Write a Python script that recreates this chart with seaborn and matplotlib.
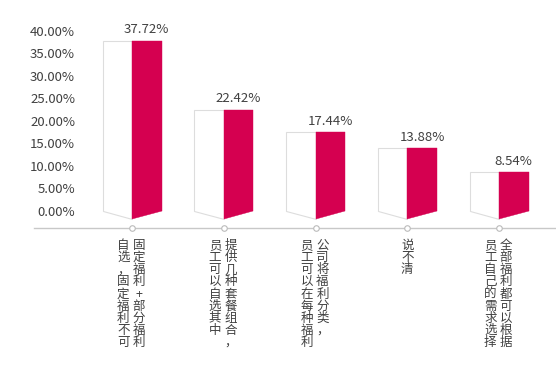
import matplotlib
matplotlib.use("Agg")
import matplotlib.pyplot as plt
from matplotlib.patches import Polygon
import pandas as pd
import seaborn as sns

# label text, split into the vertical columns it is shown in (right column first)
label_columns = [
    ["固定福利+部分福利", "自选，固定福利不可"],
    ["提供几种套餐组合，", "员工可以自选其中"],
    ["公司将福利分类，", "员工可以在每种福利"],
    ["说不清"],
    ["全部福利都可以根据", "员工自己的需求选择"],
]
categories = ["".join(c) for c in label_columns]
values = [37.72, 22.42, 17.44, 13.88, 8.54]
y_ticks = [0, 5, 10, 15, 20, 25, 30, 35, 40]

red = "#d50050"
grey_text = "#404040"

sns.set_theme(style="white")
plt.rcParams["font.family"] = ["Noto Sans CJK SC", "DejaVu Sans"]

# each bar is drawn as two faces: a white left one and a red right one
df = pd.DataFrame({
    "cat": categories * 2,
    "face": ["left"] * len(categories) + ["right"] * len(categories),
    "val": values * 2,
})

fig = plt.figure(figsize=(5.56, 3.70), dpi=100)
ax = fig.add_axes([0.0612, 0.3838, 0.9388, 0.5446])

sns.barplot(data=df, x="cat", y="val", hue="face", hue_order=["left", "right"],
            palette={"left": "white", "right": red}, width=0.643, gap=0,
            saturation=1, legend=False, ax=ax)

# turn the flat bars into prism faces with a pointed bottom edge
drop = 1.8
for p in list(ax.patches):
    x0, w, h = p.get_x(), p.get_width(), p.get_height()
    centre = round(x0 + w / 2)
    if x0 + w / 2 < centre:
        pts = [(x0, 0), (x0, h), (x0 + w, h), (x0 + w, -drop)]
        poly = Polygon(pts, closed=True, facecolor="white", edgecolor="#dddddd", lw=0.8, zorder=2)
    else:
        pts = [(x0, -drop), (x0, h), (x0 + w, h), (x0 + w, 0)]
        poly = Polygon(pts, closed=True, facecolor=red, edgecolor=red, lw=0.3, zorder=2)
        ax.annotate(f"{h:.2f}%", xy=(x0 + w / 2, h), xytext=(0, 3.5), textcoords="offset points",
                    ha="center", va="bottom", fontsize=9.5, color=grey_text)
    p.set_visible(False)
    ax.add_patch(poly)

ax.set_xlim(-1.068, 4.621)
ax.set_ylim(-3.8, 41)
ax.set_yticks(y_ticks)
ax.set_yticklabels([f"{t:.2f}%" for t in y_ticks])
ax.tick_params(axis="y", length=0, pad=-29.5, labelsize=9.5, labelcolor=grey_text)
ax.set_xticks([])
ax.set_xlabel("")
ax.set_ylabel("")

sns.despine(ax=ax, left=True)
ax.spines["bottom"].set_color("#c8c8c8")
ax.spines["bottom"].set_linewidth(1)

# small ring markers on the axis line
ax.plot(range(len(categories)), [-3.8] * len(categories), "o", ms=4, mfc="white",
        mec="#bbbbbb", mew=0.8, clip_on=False, zorder=5)

# vertical category labels, one character per line
for i, cols in enumerate(label_columns):
    offsets = [5.0, -6.3] if len(cols) == 2 else [0]
    for col, dx in zip(cols, offsets):
        ax.annotate("\n".join(col), xy=(i, 0), xycoords=ax.get_xaxis_transform(),
                    xytext=(dx, -8), textcoords="offset points", ha="center", va="top",
                    fontsize=9, color=grey_text, linespacing=0.91, annotation_clip=False)

fig.savefig("out.png", dpi=100)
